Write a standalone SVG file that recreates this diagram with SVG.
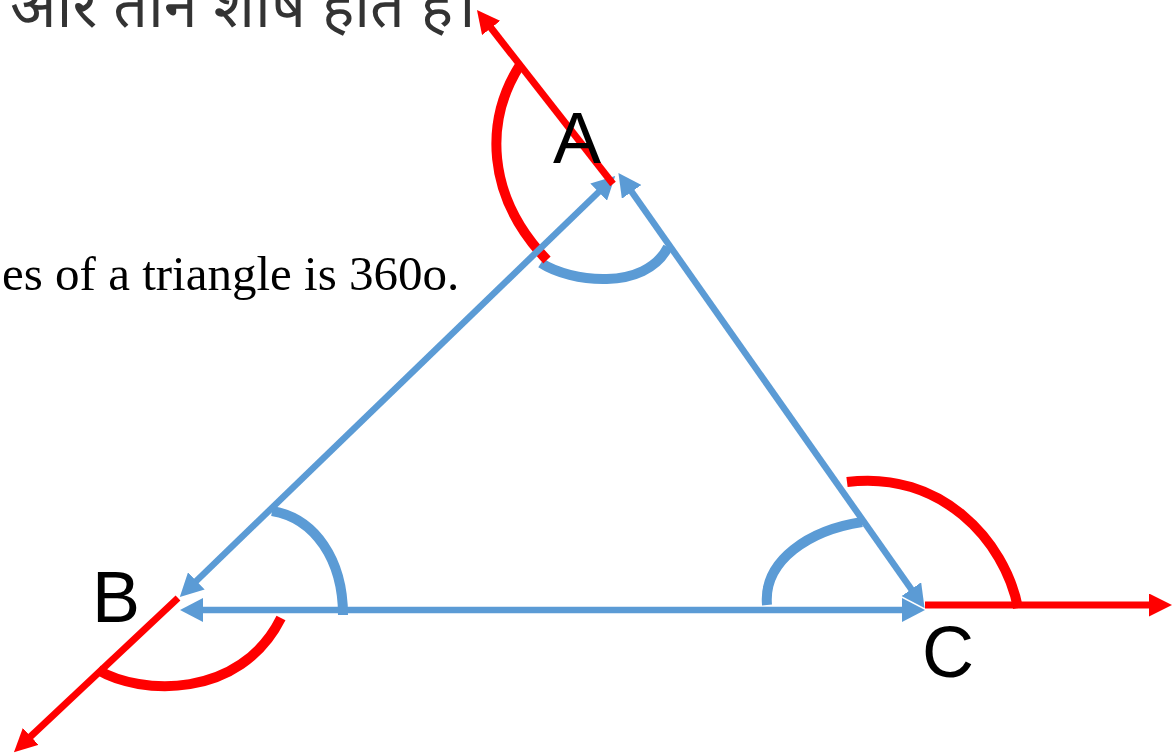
<svg xmlns="http://www.w3.org/2000/svg" width="1176" height="755" viewBox="0 0 1176 755">
<style>
.blue{stroke:#5B9BD5;stroke-width:6.5;fill:none}
.red{stroke:#FF0000;stroke-width:7;fill:none}
.barc{stroke:#5B9BD5;stroke-width:10;fill:none}
.rarc{stroke:#FF0000;stroke-width:10;fill:none}
.lbl{font-family:"Liberation Sans",Arial,sans-serif;font-size:72px;fill:#000}
.hi{font-family:"Noto Sans","Noto Sans Devanagari",sans-serif;font-size:61px;fill:#333}
.en{font-family:"Liberation Serif","Times New Roman",serif;font-size:49px;fill:#000}
</style>
<defs>
<marker id="ab" viewBox="0 0 23 24" markerWidth="23" markerHeight="24" refX="13" refY="12" orient="auto-start-reverse" markerUnits="userSpaceOnUse">
<path d="M0,0 L23,12 L0,24 z" fill="#5B9BD5"/>
</marker>
<marker id="ar" viewBox="0 0 23 23" markerWidth="23" markerHeight="23" refX="14" refY="11.5" orient="auto" markerUnits="userSpaceOnUse">
<path d="M0,0 L23,11.5 L0,23 z" fill="#FF0000"/>
</marker>
</defs>
<g id="texts">
<text class="hi" x="10" y="27">और तीन शीर्ष होते हैं।</text>
<text class="en" x="2" y="290">es of a triangle is 360o.</text>
</g>
<g id="angles">
<path class="barc" d="M541,263 C570,282 645,292 668,247"/>
<path class="barc" d="M272,511 C315,518 343,560 343,615"/>
<path class="barc" d="M767,605 C763,560 810,530 862,522"/>
<path class="rarc" d="M520,65 C485,120 485,195 547,260"/>
<path class="rarc" d="M98,670 C140,695 240,700 281,618"/>
<path class="rarc" d="M847,482 C940,470 1005,540 1018,608"/>
</g>
<g id="connectors">
<line class="blue" x1="187" y1="590" x2="608" y2="183" marker-start="url(#ab)" marker-end="url(#ab)"/>
<line class="blue" x1="624.2" y1="181.2" x2="918.8" y2="599.8" marker-start="url(#ab)" marker-end="url(#ab)"/>
<line class="blue" x1="190" y1="610" x2="915" y2="610" marker-start="url(#ab)" marker-end="url(#ab)"/>
<line class="red" x1="613" y1="184" x2="482.5" y2="17" marker-end="url(#ar)"/>
<line class="red" x1="178" y1="598" x2="20.5" y2="746" marker-end="url(#ar)"/>
<line class="red" x1="925" y1="605" x2="1163" y2="605" marker-end="url(#ar)"/>
</g>
<g id="node-A"><text class="lbl" x="553" y="163">A</text></g>
<g id="node-B"><text class="lbl" x="92" y="622">B</text></g>
<g id="node-C"><text class="lbl" x="922" y="677">C</text></g>
</svg>
